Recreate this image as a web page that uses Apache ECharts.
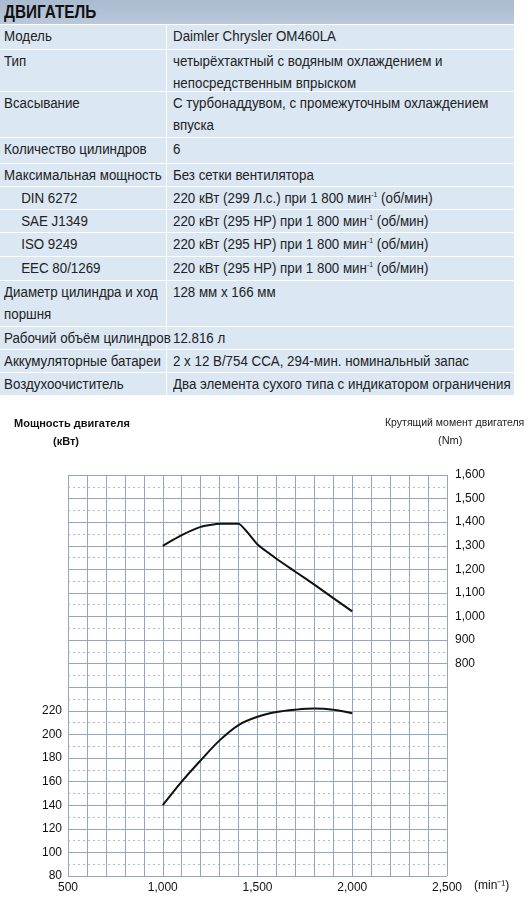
<!DOCTYPE html>
<html><head><meta charset="utf-8">
<script src="https://cdn.jsdelivr.net/npm/echarts@6/dist/echarts.min.js"></script>
<style>
body{margin:0;width:531px;height:898px;background:#fff;font-family:"Liberation Sans",sans-serif;position:relative;overflow:hidden}
#tbl{position:absolute;left:0;top:0;width:514px;background:#dbe7f2}
.hd{height:24px;background:linear-gradient(#aabbd0,#b9c8da);font:bold 18px "Liberation Sans",sans-serif;line-height:24px;padding-left:4px;color:#111;border-bottom:1px solid #fff}
.hd span{display:inline-block;transform:scaleX(0.85);transform-origin:left}
.r{display:flex;border-bottom:1px solid #fff;font-size:15.5px;color:#222;line-height:22px;overflow:hidden}
.r .a{width:162px;padding-left:4px;border-right:1px solid #fff;flex:none}
.r .b{flex:1;padding-left:6px}
.r span{display:inline-block;transform:scaleX(0.86);transform-origin:left top;white-space:nowrap}
.ind span{padding-left:20px}
sup{font-size:8px;line-height:0;vertical-align:6px}
#chart{position:absolute;left:0;top:400px;width:531px;height:498px}
</style></head><body>
<div id="tbl"></div>
<div id="chart"></div>
<script>
const tableRows=[
["Модель","Daimler Chrysler OM460LA",24],
["Тип","четырёхтактный с водяным охлаждением и<br>непосредственным впрыском",41],
["Всасывание","С турбонаддувом, с промежуточным охлаждением<br>впуска",45],
["Количество цилиндров","6",25],
["Максимальная мощность","Без сетки вентилятора",22],
["DIN 6272","220 кВт (299 Л.с.) при 1 800 мин<sup>-1</sup> (об/мин)",22,1],
["SAE J1349","220 кВт (295 HP) при 1 800 мин<sup>-1</sup> (об/мин)",22,1],
["ISO 9249","220 кВт (295 HP) при 1 800 мин<sup>-1</sup> (об/мин)",23,1],
["EEC 80/1269","220 кВт (295 HP) при 1 800 мин<sup>-1</sup> (об/мин)",23,1],
["Диаметр цилиндра и ход<br>поршня","128 мм x 166 мм",45],
["Рабочий объём цилиндров","12.816 л",22],
["Аккумуляторные батареи","2 x 12 В/754 CCA, 294-мин. номинальный запас",22],
["Воздухоочиститель","Два элемента сухого типа с индикатором ограничения",22]
];
let h='<div class="hd"><span>ДВИГАТЕЛЬ</span></div>';
for(const r of tableRows){h+=`<div class="r" style="height:${r[2]}px"><div class="a${r[3]?' ind':''}"><span>${r[0]}</span></div><div class="b"><span>${r[1]}</span></div></div>`;}
document.getElementById('tbl').innerHTML=h;

const rpm=[1000,1100,1200,1300,1400,1500,1600,1700,1800,1900,2000];
const torque=[1300,1345,1380,1393,1393,1305,1245,1190,1135,1078,1022];
const power=[140,160,178,195,208,215,219,221,222,221,218];
const ch=echarts.init(document.getElementById('chart'));
const fmt=v=>v.toLocaleString('en-US');
const lineC='#8fa7c2';
ch.setOption({
 animation:false,
 grid:{left:68,right:84,top:75,bottom:22},
 graphic:[
  {type:'text',left:14,top:18,style:{text:'Мощность двигателя',font:'bold 11px "Liberation Sans",sans-serif',fill:'#111'}},
  {type:'text',left:53,top:36,style:{text:'(кВт)',font:'bold 11px "Liberation Sans",sans-serif',fill:'#111'}},
  {type:'text',left:385,top:18,style:{text:'Крутящий момент двигателя',font:'10.5px "Liberation Sans",sans-serif',fill:'#222'}},
  {type:'text',left:438,top:35,style:{text:'(Nm)',font:'11px "Liberation Sans",sans-serif',fill:'#222'}},
  {type:'text',left:474,top:480,style:{text:'(min⁻¹)',font:'12px "Liberation Sans",sans-serif',fill:'#111'}}
 ],
 xAxis:{type:'value',min:500,max:2500,interval:100,
  axisLine:{show:false},axisTick:{show:false},
  axisLabel:{formatter:v=>v%500===0?fmt(v):'',color:'#111',fontSize:12,margin:6,showMaxLabel:true},
  splitLine:{lineStyle:{color:lineC,width:1}}},
 yAxis:[
  {type:'value',min:80,max:420,interval:20,position:'left',
   axisLine:{show:false},axisTick:{show:false},
   axisLabel:{formatter:v=>v<=220?String(v):'',color:'#111',fontSize:12,margin:6},
   splitLine:{lineStyle:{color:lineC,width:1}},
   minorTick:{show:false,splitNumber:2},
   minorSplitLine:{show:true,lineStyle:{color:'#a9bdd4',type:[2,3],width:1}}},
  {type:'value',min:-100,max:1600,interval:100,position:'right',
   axisLine:{show:false},axisTick:{show:false},
   axisLabel:{formatter:v=>v>=800?fmt(v):'',color:'#111',fontSize:12,margin:8,align:'left'},
   splitLine:{show:false}}
 ],
 series:[
  {type:'line',yAxisIndex:1,data:rpm.map((x,i)=>[x,torque[i]]),smooth:0.15,symbol:'none',lineStyle:{color:'#111',width:2}},
  {type:'line',yAxisIndex:0,data:rpm.map((x,i)=>[x,power[i]]),smooth:0.35,symbol:'none',lineStyle:{color:'#111',width:2}}
 ]
});
</script></body></html>
